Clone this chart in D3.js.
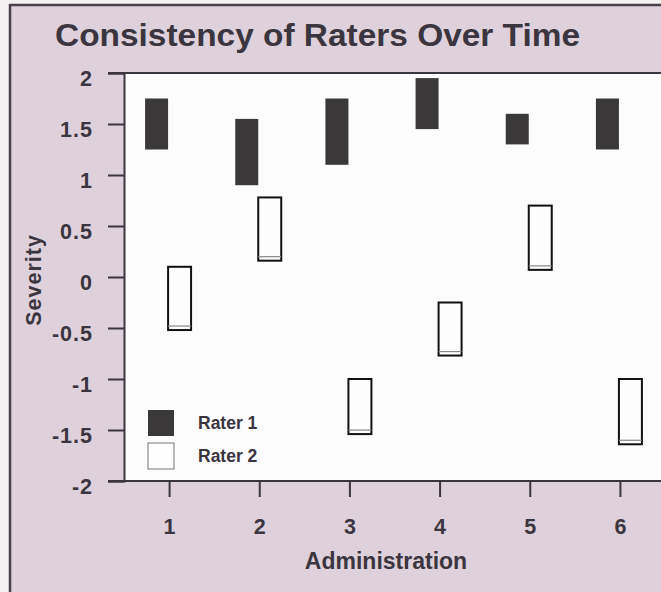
<!DOCTYPE html>
<html><head><meta charset="utf-8">
<script src="https://cdn.jsdelivr.net/npm/d3@7"></script>
<style>
html,body{margin:0;padding:0;background:#f3f1f2;}
svg{display:block;font-family:"Liberation Sans",Arial,sans-serif;font-weight:bold;}
</style></head><body>
<script>
// ---- data ----
const administrations = [1, 2, 3, 4, 5, 6];
const rater1High = [1.75, 1.55, 1.75, 1.95, 1.6, 1.75];
const rater1Low  = [1.25, 0.9, 1.1, 1.45, 1.3, 1.25];
const rater2High = [0.1, 0.78, -1.0, -0.25, 0.7, -1.0];
const rater2Low  = [-0.52, 0.16, -1.54, -0.77, 0.07, -1.64];
const yTicks = [2, 1.5, 1, 0.5, 0, -0.5, -1, -1.5, -2];
const yTickLabels = ["2", "1.5", "1", "0.5", "0", "-0.5", "-1", "-1.5", "-2"];
const legendLabels = ["Rater 1", "Rater 2"];
const titleText = "Consistency of Raters Over Time";
const xTitle = "Administration";
const yTitle = "Severity";

const W = 661, H = 592;
const ink = "#3b3540", pink = "#dfd1db", barFill = "#3a3839";

const svg = d3.select("body").append("svg").attr("width", W).attr("height", H);

// page background / outer frame
svg.append("rect").attr("x", 0).attr("y", 0).attr("width", W).attr("height", H).attr("fill", "#f3f1f2");
svg.append("rect").attr("x", 10).attr("y", 5).attr("width", W).attr("height", H).attr("fill", pink);
svg.append("line").attr("x1", 10).attr("x2", 10).attr("y1", 4).attr("y2", H).attr("stroke", "#4a4248").attr("stroke-width", 2.5);
svg.append("line").attr("x1", 9).attr("x2", W).attr("y1", 5).attr("y2", 5).attr("stroke", "#4a4248").attr("stroke-width", 2.5);

const x = d3.scaleLinear().domain([0.5, 6.5]).range([124, 665]);
const y = d3.scaleLinear().domain([-2, 2]).range([481, 73]);

// plot area
svg.append("rect").attr("x", x(0.5)).attr("y", y(2)).attr("width", x(6.5) - x(0.5)).attr("height", y(-2) - y(2)).attr("fill", "#fcfcfc");

// title
svg.append("text").attr("x", 55).attr("y", 46).attr("fill", ink)
  .attr("font-size", 30.5).attr("textLength", 525).attr("lengthAdjust", "spacingAndGlyphs")
  .text(titleText);

// y axis
const yAxis = d3.axisLeft(y).tickValues(yTicks).tickSize(16).tickPadding(0)
  .tickFormat((d, i) => yTickLabels[i]);
const gy = svg.append("g").attr("transform", `translate(${x(0.5)},0)`).call(yAxis);
gy.select(".domain").attr("stroke", ink).attr("stroke-width", 2);
gy.selectAll(".tick line").attr("stroke", ink).attr("stroke-width", 2);
gy.selectAll(".tick text").attr("fill", ink).attr("font-size", 21.5).attr("font-family", "Liberation Sans, Arial, sans-serif")
  .attr("font-weight", "bold").attr("x", -31).attr("dy", "0.58em").attr("letter-spacing", 1);

// top and bottom frame lines
[2, -2].forEach(v => {
  svg.append("line").attr("x1", x(0.5) - 16).attr("x2", W).attr("y1", y(v)).attr("y2", y(v))
    .attr("stroke", ink).attr("stroke-width", 2);
});

// x axis
const xAxis = d3.axisBottom(x).tickValues(administrations).tickSize(16).tickPadding(22).tickFormat(d3.format("d"));
const gx = svg.append("g").attr("transform", `translate(0,${y(-2)})`).call(xAxis);
gx.select(".domain").remove();
gx.selectAll(".tick line").attr("stroke", ink).attr("stroke-width", 2);
gx.selectAll(".tick text").attr("fill", ink).attr("font-size", 21.5).attr("font-family", "Liberation Sans, Arial, sans-serif")
  .attr("font-weight", "bold");

// axis titles
svg.append("text").attr("x", 386).attr("y", 569).attr("text-anchor", "middle").attr("fill", ink)
  .attr("font-size", 23).text(xTitle);
svg.append("text").attr("transform", "translate(41,280) rotate(-90)").attr("text-anchor", "middle").attr("fill", ink)
  .attr("font-size", 21.5).attr("letter-spacing", 1).text(yTitle);

// bars
const bw = x(1.255) - x(1); // bar width
const rows = administrations.map((a, i) => ({a, h1: rater1High[i], l1: rater1Low[i], h2: rater2High[i], l2: rater2Low[i]}));

svg.append("g").selectAll("rect").data(rows).join("rect")
  .attr("x", d => x(d.a) - bw - 1).attr("width", bw)
  .attr("y", d => y(d.h1)).attr("height", d => y(d.l1) - y(d.h1))
  .attr("fill", barFill);

const g2 = svg.append("g").selectAll("g").data(rows).join("g");
g2.append("rect")
  .attr("x", d => x(d.a) - 1).attr("width", bw)
  .attr("y", d => y(d.h2)).attr("height", d => y(d.l2) - y(d.h2))
  .attr("fill", "#fdfdfd").attr("stroke", "#111").attr("stroke-width", 2);
g2.append("line")
  .attr("x1", d => x(d.a) - 1).attr("x2", d => x(d.a) - 1 + bw)
  .attr("y1", d => y(d.l2) - 4).attr("y2", d => y(d.l2) - 4)
  .attr("stroke", "#888").attr("stroke-width", 1.2);

// legend
const legend = svg.append("g");
legendLabels.forEach((lab, i) => {
  const ly = 410 + i * 33;
  legend.append("rect").attr("x", 148).attr("y", ly).attr("width", 26).attr("height", 26)
    .attr("fill", i === 0 ? barFill : "#fefefe")
    .attr("stroke", i === 0 ? "none" : "#777").attr("stroke-width", 1);
  legend.append("text").attr("x", 198).attr("y", ly + 19).attr("fill", ink)
    .attr("font-size", 17.5).text(lab);
});
</script>
</body></html>
